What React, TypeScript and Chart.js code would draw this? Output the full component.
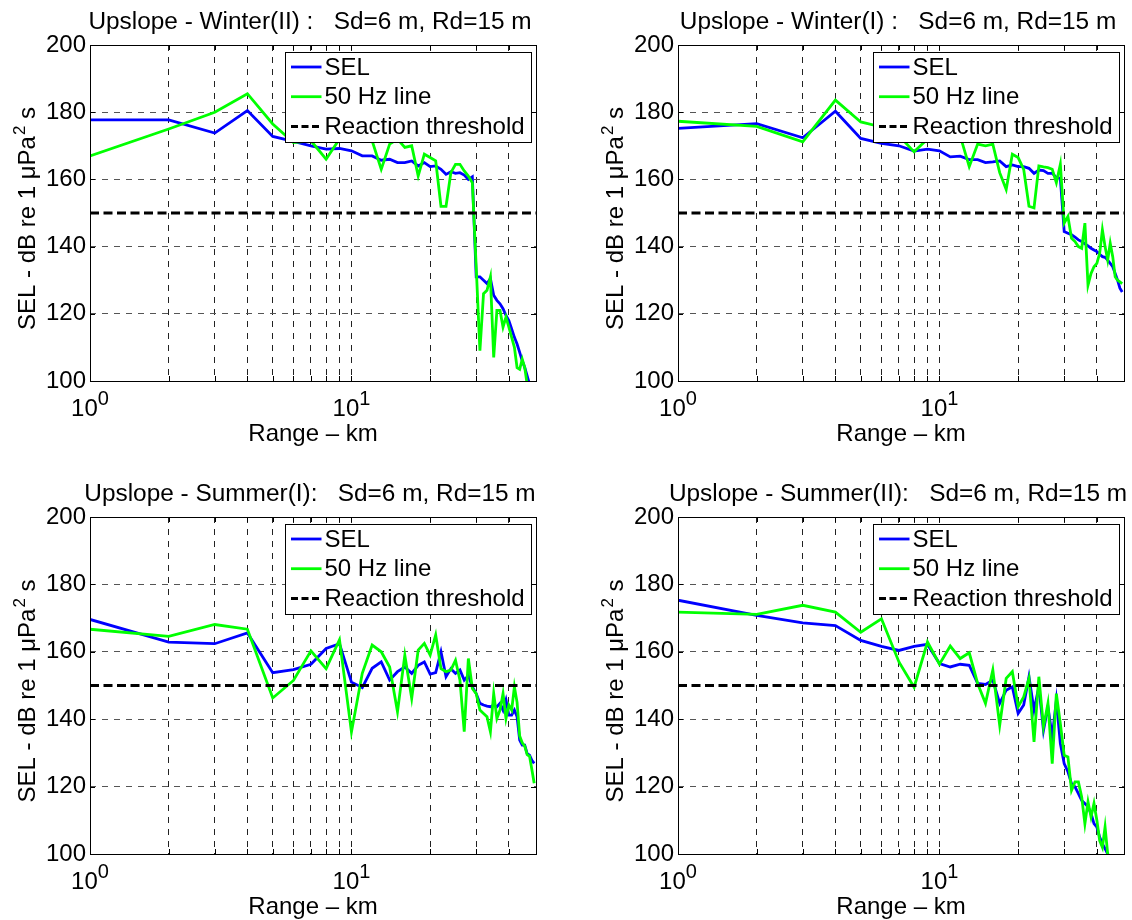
import React, { useEffect, useRef } from "react";
import { Chart, registerables } from "chart.js";

Chart.register(...registerables);

const FONT = "'Liberation Sans', Arial, Helvetica, sans-serif";

// ---------- data ----------
const RANGE_KM = [
  1, 2, 3, 4, 5, 6, 7, 8, 9, 10,
  11, 12, 13, 14, 15, 16, 17, 18, 19, 20,
  21, 22, 23, 24, 25, 26, 27, 28, 29, 30,
  31, 32, 33, 34, 35, 36, 37, 38, 39, 40,
  41, 42, 43, 44, 45, 46, 47, 48, 49, 50,
];

const X_MIN = 1;
const X_MAX = 50.8;
const Y_MIN = 100;
const Y_MAX = 200;
const Y_TICKS = [100, 120, 140, 160, 180, 200];
const X_GRID = [1, 2, 3, 4, 5, 6, 7, 8, 9, 10, 20, 30, 40];
const X_TICK_LABELS = [
  { value: 1, base: "10", exp: "0" },
  { value: 10, base: "10", exp: "1" },
];
const THRESHOLD = 150;
const X_TITLE = "Range \u2013 km";
const Y_TITLE_MAIN = "SEL - dB re 1 \u03bcPa";
const Y_TITLE_SUP = "2";
const Y_TITLE_TAIL = " s";
const LEGEND_LABELS = ["SEL", "50 Hz line", "Reaction threshold"];

const TITLES = [
  "Upslope - Winter(II) :   Sd=6 m, Rd=15 m",
  "Upslope - Winter(I) :   Sd=6 m, Rd=15 m",
  "Upslope - Summer(I):   Sd=6 m, Rd=15 m",
  "Upslope - Summer(II):   Sd=6 m, Rd=15 m",
];

const SEL_WINTER_II = [
  177.7, 177.7, 173.8, 180.5, 172.8, 171.3, 170, 169, 169.2, 168.5,
  167, 167, 165.7, 166, 165, 165, 165.5, 164, 165, 163.8,
  164, 163, 161.5, 162.3, 161.8, 162, 161.3, 160, 160.8, 131,
  131, 130, 129, 130.5, 125.5, 124, 123, 121.5, 119.5, 118,
  115.5, 113, 111, 108.5, 106, 104, 101.5, 99,
];
const HZ50_WINTER_II = [
  167, 175, 180, 185.5, 176.5, 171, 171.5, 166, 172, 173,
  174, 171.5, 163, 170.5, 172, 169.5, 170, 161, 167.5, 166.5,
  165.5, 152, 152, 162, 164.5, 164.5, 162.5, 161, 159, 134,
  109, 126, 127, 131, 107, 121, 121, 116, 119, 116,
  113, 110, 104, 103.5, 106.5, 104, 99,
];

const SEL_WINTER_I = [
  175.2, 176.6, 172.4, 180.3, 172.2, 170.7, 170, 168.4, 169, 168.5,
  166.7, 166.9, 165.9, 165.9, 165, 165.2, 165.5, 163.8, 164.3, 163.8,
  163.8, 163.3, 161.8, 162.8, 162.6, 161.8, 161.8, 160.6, 160.3, 144.5,
  144, 143.5, 142.8, 142, 141.5, 140.8, 140.2, 139.5, 139, 138.5,
  137.7, 137, 136.8, 136, 135, 134, 132, 130, 127.6, 126.5,
];
const HZ50_WINTER_I = [
  177.3, 175.8, 171.2, 183.6, 177.1, 175.6, 173, 168.2, 172, 173,
  174, 173, 163.8, 170.5, 170, 170.5, 162, 157, 167.5, 166.5,
  163, 152, 151.5, 164, 163.7, 163.5, 163, 159, 164.5, 147,
  149, 142.5, 141.5, 140, 139.5, 147, 128.5, 132, 134, 135,
  138, 145, 140, 136, 141, 137, 131, 130, 129.5, 129,
];

const SEL_SUMMER_I = [
  169.6, 162.9, 162.4, 165.6, 153.8, 154.7, 156.3, 161, 162.4, 151,
  149.4, 155.1, 157, 151.6, 154.1, 155.5, 153.6, 156, 157, 153.4,
  153.8, 160, 152.6, 155, 153.6, 154.6, 151.6, 153, 149.6, 147.6,
  144.7, 144.2, 143.9, 143.7, 144.2, 143.7, 144.7, 142.7, 145.7, 141.2,
  141.2, 142.7, 140.7, 133.8, 132.3, 132.3, 129.8, 129.3, 127.8, 126.9,
];
const HZ50_SUMMER_I = [
  166.7, 164.6, 168.1, 166.7, 146.3, 151.5, 160.3, 155, 163.6, 136.2,
  153.6, 162, 160, 155.5, 142.2, 159, 146.2, 160.5, 162.5, 159,
  165, 155, 154.1, 154.6, 157.5, 151.6, 136.3, 158, 149.1, 147.6,
  142.7, 141.7, 140.7, 136.3, 147.6, 140.2, 142.7, 147.6, 140.2, 144.2,
  142.7, 149.6, 145, 135, 133, 132, 129.5, 129, 125, 121,
];

const SEL_SUMMER_II = [
  175.3, 170.8, 168.6, 167.8, 163.4, 161.6, 160.4, 161.6, 162.2, 156.5,
  155.5, 156.3, 156, 150.6, 150.3, 151.6, 144.7, 148.6, 149.6, 141.7,
  144.2, 152.6, 142.7, 149.6, 136.7, 143.7, 134.8, 145.6, 132.8, 126.8,
  124.4, 120.9, 119.9, 117.9, 115.9, 115, 114, 112, 109, 108,
  105, 103, 101.6, 100, 99,
];
const HZ50_SUMMER_II = [
  171.8, 171.1, 173.8, 171.8, 165.8, 169.8, 157, 149.5, 162.9, 156.3,
  161.7, 158, 159.7, 150.6, 144.7, 154.6, 138.2, 152.1, 154.1, 143.7,
  146.6, 152.1, 133.3, 152.6, 137.7, 144.7, 126.8, 147.6, 138.7, 129.3,
  128.8, 118.9, 121.4, 121.4, 116.9, 109, 115.5, 111, 115, 110,
  104, 102, 108, 100, 98,
];

const SERIES_SEL = [SEL_WINTER_II, SEL_WINTER_I, SEL_SUMMER_I, SEL_SUMMER_II];
const SERIES_HZ50 = [HZ50_WINTER_II, HZ50_WINTER_I, HZ50_SUMMER_I, HZ50_SUMMER_II];

// ---------- style / layout ----------
const BLUE = "#0000ff";
const GREEN = "#00ff00";
const LINE_W = 2.8;
const CANVAS_W = 566;
const CANVAS_H = 460;
const PANEL_LAYOUT = [
  { left: 0, top: 0, pad: { left: 90, top: 45, right: 30, bottom: 79 } },
  { left: 566, top: 0, pad: { left: 112, top: 45, right: 8, bottom: 79 } },
  { left: 0, top: 460, pad: { left: 90, top: 57, right: 30, bottom: 66 } },
  { left: 566, top: 460, pad: { left: 112, top: 57, right: 8, bottom: 66 } },
];
const TICK_LEN = 5;

const matlabDecor = {
  id: "matlabDecor",
  afterDraw(chart: any, _args: any, opts: any) {
    const { ctx, chartArea: a, scales } = chart;
    const xs = scales.x;
    const ys = scales.y;
    const L = Math.round(a.left);
    const R = Math.round(a.right);
    const T = Math.round(a.top);
    const B = Math.round(a.bottom);
    const cx = (L + R) / 2;
    ctx.save();

    // axes box + inward ticks
    ctx.setLineDash([]);
    ctx.strokeStyle = "#000";
    ctx.lineWidth = 1;
    ctx.strokeRect(L + 0.5, T + 0.5, R - L, B - T);
    ctx.beginPath();
    X_GRID.forEach((v) => {
      const p = Math.round(xs.getPixelForValue(v)) + 0.5;
      ctx.moveTo(p, B);
      ctx.lineTo(p, B - TICK_LEN);
      ctx.moveTo(p, T);
      ctx.lineTo(p, T + TICK_LEN);
    });
    Y_TICKS.forEach((v) => {
      const p = Math.round(ys.getPixelForValue(v)) + 0.5;
      ctx.moveTo(L, p);
      ctx.lineTo(L + TICK_LEN, p);
      ctx.moveTo(R, p);
      ctx.lineTo(R - TICK_LEN, p);
    });
    ctx.stroke();

    ctx.fillStyle = "#000";

    // y tick labels
    ctx.font = `24px ${FONT}`;
    ctx.textAlign = "right";
    ctx.textBaseline = "middle";
    Y_TICKS.forEach((v) => {
      const p = ys.getPixelForValue(v);
      ctx.fillText(String(v), L - 4, p);
    });

    ctx.textBaseline = "alphabetic";

    // x tick labels with superscripts
    X_TICK_LABELS.forEach((t) => {
      const p = xs.getPixelForValue(t.value);
      ctx.font = `24px ${FONT}`;
      const bw = ctx.measureText(t.base).width;
      ctx.font = `20px ${FONT}`;
      const ew = ctx.measureText(t.exp).width;
      const x0 = p - (bw + ew) / 2;
      ctx.textAlign = "left";
      ctx.font = `24px ${FONT}`;
      ctx.fillText(t.base, x0, B + 35);
      ctx.font = `20px ${FONT}`;
      ctx.fillText(t.exp, x0 + bw, B + 24);
    });

    // x title
    ctx.textAlign = "center";
    ctx.font = `24px ${FONT}`;
    ctx.fillText(X_TITLE, cx, B + 60);

    // plot title
    ctx.font = `24.4px ${FONT}`;
    ctx.fillText(opts.title, cx - 3, T - 16);

    // y title (rotated, with superscript)
    ctx.save();
    ctx.translate(L - 55, (T + B) / 2);
    ctx.rotate(-Math.PI / 2);
    ctx.textAlign = "left";
    ctx.font = `24px ${FONT}`;
    const w1 = ctx.measureText(Y_TITLE_MAIN).width;
    const w3 = ctx.measureText(Y_TITLE_TAIL).width;
    ctx.font = `17px ${FONT}`;
    const w2 = ctx.measureText(Y_TITLE_SUP).width;
    let x = -(w1 + w2 + w3) / 2 - 6;
    ctx.font = `24px ${FONT}`;
    ctx.fillText(Y_TITLE_MAIN, x, 0);
    x += w1 + 1;
    ctx.font = `17px ${FONT}`;
    ctx.fillText(Y_TITLE_SUP, x, -10);
    x += w2;
    ctx.font = `24px ${FONT}`;
    ctx.fillText(Y_TITLE_TAIL, x, 0);
    ctx.restore();

    // legend
    const lw = 246;
    const lh = 90;
    const lx = R - 5 - lw;
    const ly = T + 7;
    ctx.fillStyle = "#fff";
    ctx.fillRect(lx, ly, lw, lh);
    ctx.strokeStyle = "#000";
    ctx.lineWidth = 1;
    ctx.setLineDash([]);
    ctx.strokeRect(lx + 0.5, ly + 0.5, lw, lh);
    const styles = [
      { color: BLUE, width: LINE_W, dash: [] as number[] },
      { color: GREEN, width: LINE_W, dash: [] as number[] },
      { color: "#000", width: 3, dash: [7, 3.5] },
    ];
    LEGEND_LABELS.forEach((label, i) => {
      const cy = ly + 15 + i * 29.7;
      const s = styles[i];
      ctx.beginPath();
      ctx.strokeStyle = s.color;
      ctx.lineWidth = s.width;
      ctx.setLineDash(s.dash);
      ctx.moveTo(lx + 6, cy);
      ctx.lineTo(lx + 36.5, cy);
      ctx.stroke();
      ctx.setLineDash([]);
      ctx.fillStyle = "#000";
      ctx.font = `24px ${FONT}`;
      ctx.textAlign = "left";
      ctx.textBaseline = "middle";
      ctx.fillText(label, lx + 39.5, cy + 1);
    });

    ctx.restore();
  },
};

function toPoints(values: number[]) {
  return values.map((y, i) => ({ x: RANGE_KM[i], y }));
}

function Panel({ index }: { index: number }) {
  const ref = useRef<HTMLCanvasElement | null>(null);
  const layout = PANEL_LAYOUT[index];

  useEffect(() => {
    if (!ref.current) return;
    const chart = new Chart(ref.current, {
      type: "line",
      data: {
        datasets: [
          {
            label: LEGEND_LABELS[2],
            data: [
              { x: X_MIN, y: THRESHOLD },
              { x: X_MAX, y: THRESHOLD },
            ],
            borderColor: "#000",
            borderWidth: 3,
            borderDash: [9, 4.5],
            pointRadius: 0,
            order: 1,
            clip: 0,
          } as any,
          {
            label: LEGEND_LABELS[1],
            data: toPoints(SERIES_HZ50[index]),
            borderColor: GREEN,
            borderWidth: LINE_W,
            pointRadius: 0,
            tension: 0,
            order: 2,
            clip: 0,
          } as any,
          {
            label: LEGEND_LABELS[0],
            data: toPoints(SERIES_SEL[index]),
            borderColor: BLUE,
            borderWidth: LINE_W,
            pointRadius: 0,
            tension: 0,
            order: 3,
            clip: 0,
          } as any,
        ],
      },
      options: {
        responsive: false,
        animation: false,
        events: [],
        layout: { padding: layout.pad },
        plugins: {
          legend: { display: false },
          title: { display: false },
          tooltip: { enabled: false },
          matlabDecor: { title: TITLES[index] },
        } as any,
        scales: {
          x: {
            type: "logarithmic",
            min: X_MIN,
            max: X_MAX,
            afterBuildTicks: (s: any) => {
              s.ticks = X_GRID.map((v) => ({ value: v }));
            },
            afterFit: (s: any) => {
              s.height = 0;
            },
            ticks: { display: false },
            grid: { color: "#222222", lineWidth: 1, drawTicks: false },
            border: { display: false, dash: [6, 6] },
          },
          y: {
            type: "linear",
            min: Y_MIN,
            max: Y_MAX,
            afterBuildTicks: (s: any) => {
              s.ticks = Y_TICKS.map((v) => ({ value: v }));
            },
            afterFit: (s: any) => {
              s.width = 0;
            },
            ticks: { display: false },
            grid: { color: "#555555", lineWidth: 1, drawTicks: false },
            border: { display: false, dash: [6, 6] },
          },
        } as any,
      },
      plugins: [matlabDecor as any],
    });
    return () => chart.destroy();
  }, [index]);

  return (
    <canvas
      ref={ref}
      width={CANVAS_W}
      height={CANVAS_H}
      style={{
        position: "absolute",
        left: layout.left,
        top: layout.top,
        width: CANVAS_W,
        height: CANVAS_H,
        display: "block",
      }}
    />
  );
}

export default function App() {
  return (
    <div
      style={{
        position: "absolute",
        left: 0,
        top: 0,
        width: 1132,
        height: 920,
        background: "#fff",
        overflow: "hidden",
      }}
    >
      {[0, 1, 2, 3].map((i) => (
        <Panel key={i} index={i} />
      ))}
    </div>
  );
}
